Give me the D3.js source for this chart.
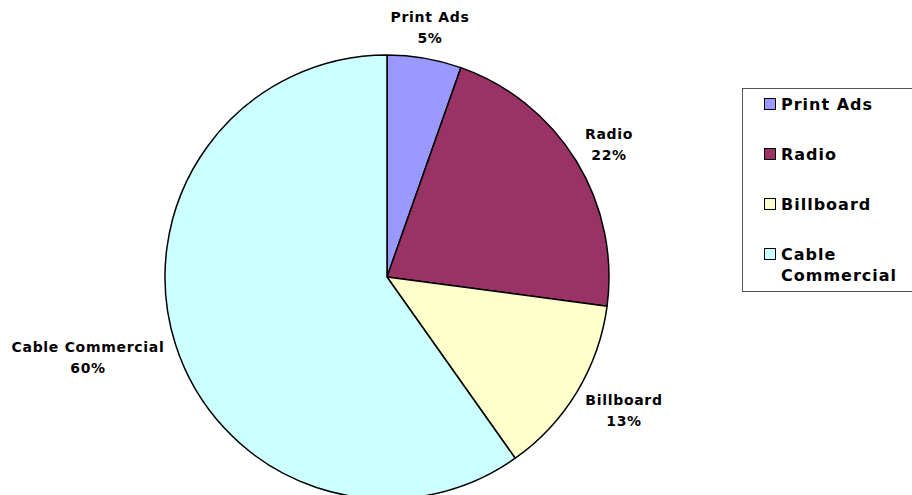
<!DOCTYPE html>
<html>
<head>
<meta charset="utf-8">
<script src="https://cdn.jsdelivr.net/npm/d3@7"></script>
<style>
  html, body { margin: 0; padding: 0; background: #fff; }
  svg { display: block; }
  text { font-family: "DejaVu Sans", sans-serif; font-weight: bold; fill: #000; }
</style>
</head>
<body>
<svg id="chart" width="912" height="495"></svg>
<script>
// Advertising spend share by channel
const categories = ["Print Ads", "Radio", "Billboard", "Cable Commercial"];
const values = [5.4, 21.7, 13.1, 59.8];
const colors = ["#9999FF", "#993366", "#FFFFCC", "#CCFFFF"];
// Legend lines (Cable Commercial wraps onto two lines)
const legendLines = [["Print Ads"], ["Radio"], ["Billboard"], ["Cable", "Commercial"]];

const svg = d3.select("#chart");
const cx = 387, cy = 277, radius = 222;

const total = d3.sum(values);
const data = categories.map((c, i) => ({ name: c, value: values[i], color: colors[i] }));

const pie = d3.pie().value(d => d.value).sort(null);
const arc = d3.arc().innerRadius(0).outerRadius(radius);
const arcs = pie(data);

const g = svg.append("g").attr("transform", `translate(${cx},${cy})`);
g.selectAll("path")
  .data(arcs)
  .join("path")
  .attr("d", arc)
  .attr("fill", d => d.data.color)
  .attr("stroke", "#000")
  .attr("stroke-width", 1.5)
  .attr("stroke-linejoin", "round");

// Category labels with percentages, placed outside the slices
const labelPos = [[430, 22], [609, 139], [624, 405], [88, 352]];
const labels = svg.append("g");
arcs.forEach((a, i) => {
  const [x, y] = labelPos[i];
  const t = labels.append("text")
    .attr("x", x).attr("y", y)
    .attr("text-anchor", "middle")
    .attr("font-size", 14)
    .attr("letter-spacing", 0.7);
  t.append("tspan").attr("x", x).text(a.data.name);
  t.append("tspan").attr("x", x).attr("dy", 21)
    .text(Math.round(a.data.value / total * 100) + "%");
});

// Legend
const legend = svg.append("g");
legend.append("rect")
  .attr("x", 742.5).attr("y", 88.5)
  .attr("width", 180).attr("height", 203)
  .attr("fill", "#fff")
  .attr("stroke", "#555").attr("stroke-width", 1);

const legendY = d3.scalePoint().domain(categories).range([104, 254]);
categories.forEach((c, i) => {
  const y = legendY(c);
  legend.append("rect")
    .attr("x", 764.5).attr("y", y - 5.5)
    .attr("width", 11).attr("height", 11)
    .attr("fill", colors[i])
    .attr("stroke", "#000").attr("stroke-width", 1);
  const t = legend.append("text")
    .attr("x", 781).attr("y", y + 6)
    .attr("font-size", 16)
    .attr("letter-spacing", 1);
  legendLines[i].forEach((line, j) => {
    t.append("tspan").attr("x", 781).attr("dy", j === 0 ? 0 : 21).text(line);
  });
});
</script>
</body>
</html>
